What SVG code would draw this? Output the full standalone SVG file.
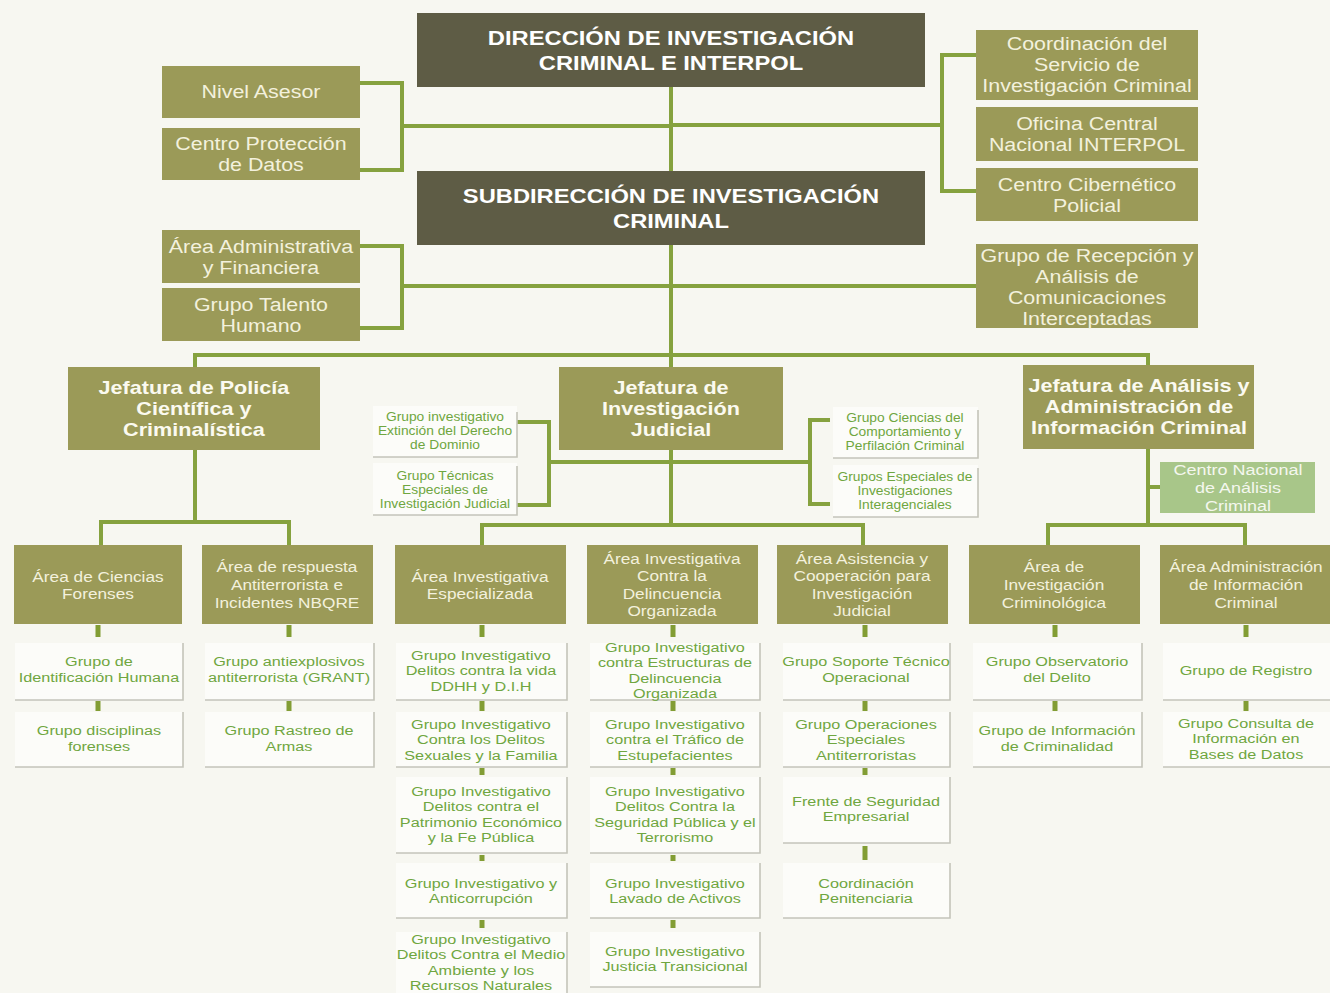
<svg xmlns="http://www.w3.org/2000/svg" width="1330" height="993" viewBox="0 0 1330 993">
<style>
.bg{fill:#f7f7f1}
.dark{fill:#5e5c45}
.olive{fill:#9b9a58}
.light{fill:#a8c689}
.card{fill:#fcfcf9}
.sh{fill:none;stroke:#c4c4ba;stroke-width:1.6}
.conn{fill:none;stroke:#86a23f;stroke-width:4}
.tick{fill:none;stroke:#829d34;stroke-width:5}
text{font-family:"Liberation Sans",Arial,sans-serif;text-anchor:middle;transform-box:fill-box;transform-origin:center}
.td{font-size:21px;font-weight:700;fill:#ffffff;transform:scaleX(1.13)}
.ts{font-size:18px;fill:#f3f1dd;transform:scaleX(1.19)}
.tj{font-size:18px;font-weight:700;fill:#fbfaf0;transform:scaleX(1.2)}
.tl{font-size:14.5px;fill:#f3f1dd;transform:scaleX(1.19)}
.tn{font-size:15px;fill:#f4f7ee;transform:scaleX(1.2)}
.tc{font-size:13.3px;fill:#6fa640;transform:scaleX(1.22)}
.tm{font-size:12px;fill:#6fa640;transform:scaleX(1.15)}
</style>
<rect class="bg" x="0" y="0" width="1330" height="993"/>

<g id="connectors">
<path class="conn" d="M671,87 V367"/>
<path class="conn" d="M360,83 H402 V170 H360 M402,126 H671"/>
<path class="conn" d="M671,125 H942 M976,55 H942 V191 H976"/>
<path class="conn" d="M360,246 H402 V328 H360 M402,286 H671"/>
<path class="conn" d="M671,286 H976"/>
<path class="conn" d="M195,367 V355 H1148 V365"/>
<path class="conn" d="M195,450 V522 M101,545 V522 H289 V545"/>
<path class="conn" d="M671,450 V525 M482,545 V525 H863 V545"/>
<path class="conn" d="M517,422 H549 V505 H517 M549,462 H810 M830,420 H810 V504 H830"/>
<path class="conn" d="M1148,449 V525 M1048,545 V525 H1245 V545 M1148,487 H1160"/>
<path class="tick" d="M98,625 V637 M289,625 V637 M482,625 V637 M673,625 V637 M865,625 V637 M1055,625 V637 M1246,625 V637"/>
<path class="tick" d="M98,701 V711 M289,701 V711 M482,701 V711 M673,701 V711 M865,701 V711 M1055,701 V711 M1246,701 V711"/>
<path class="tick" d="M482,768 V775 M482,855 V861 M482,920 V928 M673,768 V775 M673,855 V861 M673,920 V928 M865,768 V775 M865,846 V860"/>
</g>

<g id="direccion"><rect class="dark" x="417" y="13" width="508" height="74"/>
<text class="td"><tspan x="671" y="45.5">DIRECCIÓN DE INVESTIGACIÓN</tspan><tspan x="671" y="70.5">CRIMINAL E INTERPOL</tspan></text></g>
<g id="subdireccion"><rect class="dark" x="417" y="171" width="508" height="74"/>
<text class="td"><tspan x="671" y="203.5">SUBDIRECCIÓN DE INVESTIGACIÓN</tspan><tspan x="671" y="228.5">CRIMINAL</tspan></text></g>

<g id="nivel-asesor"><rect class="olive" x="162" y="66" width="198" height="52"/>
<text class="ts" x="261" y="98.5">Nivel Asesor</text></g>
<g id="centro-proteccion"><rect class="olive" x="162" y="128" width="198" height="52"/>
<text class="ts"><tspan x="261" y="150.5">Centro Protección</tspan><tspan x="261" y="171.5">de Datos</tspan></text></g>
<g id="area-administrativa"><rect class="olive" x="162" y="230" width="198" height="53"/>
<text class="ts"><tspan x="261" y="253.5">Área Administrativa</tspan><tspan x="261" y="274.5">y Financiera</tspan></text></g>
<g id="talento-humano"><rect class="olive" x="162" y="288" width="198" height="53"/>
<text class="ts"><tspan x="261" y="311.5">Grupo Talento</tspan><tspan x="261" y="332.5">Humano</tspan></text></g>

<g id="coordinacion-servicio"><rect class="olive" x="976" y="30" width="222" height="70"/>
<text class="ts"><tspan x="1087" y="50.5">Coordinación del</tspan><tspan x="1087" y="71.5">Servicio de</tspan><tspan x="1087" y="92.5">Investigación Criminal</tspan></text></g>
<g id="interpol"><rect class="olive" x="976" y="107" width="222" height="54"/>
<text class="ts"><tspan x="1087" y="130.5">Oficina Central</tspan><tspan x="1087" y="151.5">Nacional INTERPOL</tspan></text></g>
<g id="centro-cibernetico"><rect class="olive" x="976" y="168" width="222" height="53"/>
<text class="ts"><tspan x="1087" y="191.5">Centro Cibernético</tspan><tspan x="1087" y="212.5">Policial</tspan></text></g>
<g id="recepcion"><rect class="olive" x="976" y="244" width="222" height="84"/>
<text class="ts"><tspan x="1087" y="262.5">Grupo de Recepción y</tspan><tspan x="1087" y="283.5">Análisis de</tspan><tspan x="1087" y="304.5">Comunicaciones</tspan><tspan x="1087" y="325">Interceptadas</tspan></text></g>

<g id="jef-policia-cientifica"><rect class="olive" x="68" y="367" width="252" height="83"/>
<text class="tj"><tspan x="194" y="394.5">Jefatura de Policía</tspan><tspan x="194" y="415.5">Científica y</tspan><tspan x="194" y="436.5">Criminalística</tspan></text></g>
<g id="jef-investigacion-judicial"><rect class="olive" x="559" y="367" width="224" height="83"/>
<text class="tj"><tspan x="671" y="394.5">Jefatura de</tspan><tspan x="671" y="415.5">Investigación</tspan><tspan x="671" y="436.5">Judicial</tspan></text></g>
<g id="jef-analisis"><rect class="olive" x="1023" y="365" width="231" height="84"/>
<text class="tj"><tspan x="1139" y="392.5">Jefatura de Análisis y</tspan><tspan x="1139" y="413.5">Administración de</tspan><tspan x="1139" y="434.5">Información Criminal</tspan></text></g>

<g id="extincion-dominio"><rect class="card" x="373" y="406" width="144" height="51"/><path class="sh" d="M373,457 H517 V412"/>
<text class="tm"><tspan x="445" y="421">Grupo investigativo</tspan><tspan x="445" y="435">Extinción del Derecho</tspan><tspan x="445" y="449">de Dominio</tspan></text></g>
<g id="tecnicas-especiales"><rect class="card" x="373" y="463" width="144" height="52"/><path class="sh" d="M373,515 H517 V466"/>
<text class="tm"><tspan x="445" y="480">Grupo Técnicas</tspan><tspan x="445" y="494">Especiales de</tspan><tspan x="445" y="508">Investigación Judicial</tspan></text></g>
<g id="ciencias-comportamiento"><rect class="card" x="833" y="407" width="145" height="51"/><path class="sh" d="M833,458 H978 V410"/>
<text class="tm"><tspan x="905" y="422">Grupo Ciencias del</tspan><tspan x="905" y="436">Comportamiento y</tspan><tspan x="905" y="450">Perfilación Criminal</tspan></text></g>
<g id="grupos-interagenciales"><rect class="card" x="833" y="465" width="145" height="52"/><path class="sh" d="M833,517 H978 V468"/>
<text class="tm"><tspan x="905" y="481">Grupos Especiales de</tspan><tspan x="905" y="495">Investigaciones</tspan><tspan x="905" y="509">Interagenciales</tspan></text></g>

<g id="centro-nacional-analisis"><rect class="light" x="1160" y="462" width="155" height="51"/>
<text class="tn"><tspan x="1238" y="475.5">Centro Nacional</tspan><tspan x="1238" y="493.5">de Análisis</tspan><tspan x="1238" y="511">Criminal</tspan></text></g>

<g id="area-ciencias-forenses"><rect class="olive" x="14" y="545" width="168" height="79"/>
<text class="tl"><tspan x="98" y="582.2">Área de Ciencias</tspan><tspan x="98" y="599.2">Forenses</tspan></text></g>
<g id="area-nbqre"><rect class="olive" x="202" y="545" width="171" height="79"/>
<text class="tl"><tspan x="287" y="572.2">Área de respuesta</tspan><tspan x="287" y="590.2">Antiterrorista e</tspan><tspan x="287" y="608.2">Incidentes NBQRE</tspan></text></g>
<g id="area-especializada"><rect class="olive" x="395" y="545" width="171" height="79"/>
<text class="tl"><tspan x="480" y="582.2">Área Investigativa</tspan><tspan x="480" y="599.2">Especializada</tspan></text></g>
<g id="area-delincuencia"><rect class="olive" x="587" y="545" width="171" height="79"/>
<text class="tl"><tspan x="672" y="564.2">Área Investigativa</tspan><tspan x="672" y="581.5">Contra la</tspan><tspan x="672" y="598.8">Delincuencia</tspan><tspan x="672" y="616.2">Organizada</tspan></text></g>
<g id="area-asistencia"><rect class="olive" x="777" y="545" width="171" height="79"/>
<text class="tl"><tspan x="862" y="564.2">Área Asistencia y</tspan><tspan x="862" y="581.5">Cooperación para</tspan><tspan x="862" y="598.8">Investigación</tspan><tspan x="862" y="616.2">Judicial</tspan></text></g>
<g id="area-criminologica"><rect class="olive" x="969" y="545" width="171" height="79"/>
<text class="tl"><tspan x="1054" y="572.2">Área de</tspan><tspan x="1054" y="590.2">Investigación</tspan><tspan x="1054" y="608.2">Criminológica</tspan></text></g>
<g id="area-administracion-info"><rect class="olive" x="1160" y="545" width="170" height="79"/>
<text class="tl"><tspan x="1246" y="572.2">Área Administración</tspan><tspan x="1246" y="590.2">de Información</tspan><tspan x="1246" y="608.2">Criminal</tspan></text></g>

<g id="identificacion-humana"><rect class="card" x="15" y="643" width="168" height="57"/><path class="sh" d="M15,700 H183 V643"/>
<text class="tc"><tspan x="99" y="666.5">Grupo de</tspan><tspan x="99" y="682">Identificación Humana</tspan></text></g>
<g id="disciplinas-forenses"><rect class="card" x="15" y="712" width="168" height="55"/><path class="sh" d="M15,767 H183 V712"/>
<text class="tc"><tspan x="99" y="735.5">Grupo disciplinas</tspan><tspan x="99" y="751">forenses</tspan></text></g>
<g id="grant"><rect class="card" x="205" y="643" width="169" height="57"/><path class="sh" d="M205,700 H374 V643"/>
<text class="tc"><tspan x="289" y="666.5">Grupo antiexplosivos</tspan><tspan x="289" y="682">antiterrorista (GRANT)</tspan></text></g>
<g id="rastreo-armas"><rect class="card" x="205" y="712" width="169" height="55"/><path class="sh" d="M205,767 H374 V712"/>
<text class="tc"><tspan x="289" y="735.5">Grupo Rastreo de</tspan><tspan x="289" y="751">Armas</tspan></text></g>

<g id="delitos-vida"><rect class="card" x="396" y="643" width="171" height="57"/><path class="sh" d="M396,700 H567 V643"/>
<text class="tc"><tspan x="481" y="660">Grupo Investigativo</tspan><tspan x="481" y="675.5">Delitos contra la vida</tspan><tspan x="481" y="691">DDHH y D.I.H</tspan></text></g>
<g id="delitos-sexuales"><rect class="card" x="396" y="712" width="171" height="55"/><path class="sh" d="M396,767 H567 V712"/>
<text class="tc"><tspan x="481" y="729">Grupo Investigativo</tspan><tspan x="481" y="744.5">Contra los Delitos</tspan><tspan x="481" y="760">Sexuales y la Familia</tspan></text></g>
<g id="patrimonio-economico"><rect class="card" x="396" y="777" width="171" height="76"/><path class="sh" d="M396,853 H567 V777"/>
<text class="tc"><tspan x="481" y="796">Grupo Investigativo</tspan><tspan x="481" y="811.5">Delitos contra el</tspan><tspan x="481" y="827">Patrimonio Económico</tspan><tspan x="481" y="842.5">y la Fe Pública</tspan></text></g>
<g id="anticorrupcion"><rect class="card" x="396" y="863" width="171" height="55"/><path class="sh" d="M396,918 H567 V863"/>
<text class="tc"><tspan x="481" y="888">Grupo Investigativo y</tspan><tspan x="481" y="903.5">Anticorrupción</tspan></text></g>
<g id="medio-ambiente"><rect class="card" x="396" y="932" width="171" height="70"/><path class="sh" d="M567,932 V1000"/>
<text class="tc"><tspan x="481" y="944">Grupo Investigativo</tspan><tspan x="481" y="959.5">Delitos Contra el Medio</tspan><tspan x="481" y="975">Ambiente y los</tspan><tspan x="481" y="990.5">Recursos Naturales</tspan></text></g>

<g id="estructuras-delincuencia"><rect class="card" x="590" y="643" width="170" height="57"/><path class="sh" d="M590,700 H760 V643"/>
<text class="tc"><tspan x="675" y="652">Grupo Investigativo</tspan><tspan x="675" y="667.5">contra Estructuras de</tspan><tspan x="675" y="683">Delincuencia</tspan><tspan x="675" y="698.5">Organizada</tspan></text></g>
<g id="estupefacientes"><rect class="card" x="590" y="712" width="170" height="55"/><path class="sh" d="M590,767 H760 V712"/>
<text class="tc"><tspan x="675" y="729">Grupo Investigativo</tspan><tspan x="675" y="744.5">contra el Tráfico de</tspan><tspan x="675" y="760">Estupefacientes</tspan></text></g>
<g id="seguridad-publica"><rect class="card" x="590" y="777" width="170" height="76"/><path class="sh" d="M590,853 H760 V777"/>
<text class="tc"><tspan x="675" y="796">Grupo Investigativo</tspan><tspan x="675" y="811.5">Delitos Contra la</tspan><tspan x="675" y="827">Seguridad Pública y el</tspan><tspan x="675" y="842.5">Terrorismo</tspan></text></g>
<g id="lavado-activos"><rect class="card" x="590" y="863" width="170" height="55"/><path class="sh" d="M590,918 H760 V863"/>
<text class="tc"><tspan x="675" y="888">Grupo Investigativo</tspan><tspan x="675" y="903.5">Lavado de Activos</tspan></text></g>
<g id="justicia-transicional"><rect class="card" x="590" y="932" width="170" height="55"/><path class="sh" d="M590,987 H760 V932"/>
<text class="tc"><tspan x="675" y="956">Grupo Investigativo</tspan><tspan x="675" y="971.5">Justicia Transicional</tspan></text></g>

<g id="soporte-tecnico"><rect class="card" x="783" y="643" width="167" height="57"/><path class="sh" d="M783,700 H950 V643"/>
<text class="tc"><tspan x="866" y="666.5">Grupo Soporte Técnico</tspan><tspan x="866" y="682">Operacional</tspan></text></g>
<g id="operaciones-especiales"><rect class="card" x="783" y="712" width="167" height="55"/><path class="sh" d="M783,767 H950 V712"/>
<text class="tc"><tspan x="866" y="729">Grupo Operaciones</tspan><tspan x="866" y="744.5">Especiales</tspan><tspan x="866" y="760">Antiterroristas</tspan></text></g>
<g id="seguridad-empresarial"><rect class="card" x="783" y="777" width="167" height="66"/><path class="sh" d="M783,843 H950 V777"/>
<text class="tc"><tspan x="866" y="806">Frente de Seguridad</tspan><tspan x="866" y="821.5">Empresarial</tspan></text></g>
<g id="coordinacion-penitenciaria"><rect class="card" x="783" y="863" width="167" height="55"/><path class="sh" d="M783,918 H950 V863"/>
<text class="tc"><tspan x="866" y="888">Coordinación</tspan><tspan x="866" y="903.5">Penitenciaria</tspan></text></g>

<g id="observatorio-delito"><rect class="card" x="973" y="643" width="169" height="57"/><path class="sh" d="M973,700 H1142 V643"/>
<text class="tc"><tspan x="1057" y="666.5">Grupo Observatorio</tspan><tspan x="1057" y="682">del Delito</tspan></text></g>
<g id="informacion-criminalidad"><rect class="card" x="973" y="712" width="169" height="55"/><path class="sh" d="M973,767 H1142 V712"/>
<text class="tc"><tspan x="1057" y="735.5">Grupo de Información</tspan><tspan x="1057" y="751">de Criminalidad</tspan></text></g>
<g id="grupo-registro"><rect class="card" x="1163" y="643" width="167" height="57"/><path class="sh" d="M1163,700 H1330"/>
<text class="tc" x="1246" y="675">Grupo de Registro</text></g>
<g id="consulta-bases-datos"><rect class="card" x="1163" y="712" width="167" height="55"/><path class="sh" d="M1163,767 H1330"/>
<text class="tc"><tspan x="1246" y="728">Grupo Consulta de</tspan><tspan x="1246" y="743.5">Información en</tspan><tspan x="1246" y="759">Bases de Datos</tspan></text></g>
</svg>
